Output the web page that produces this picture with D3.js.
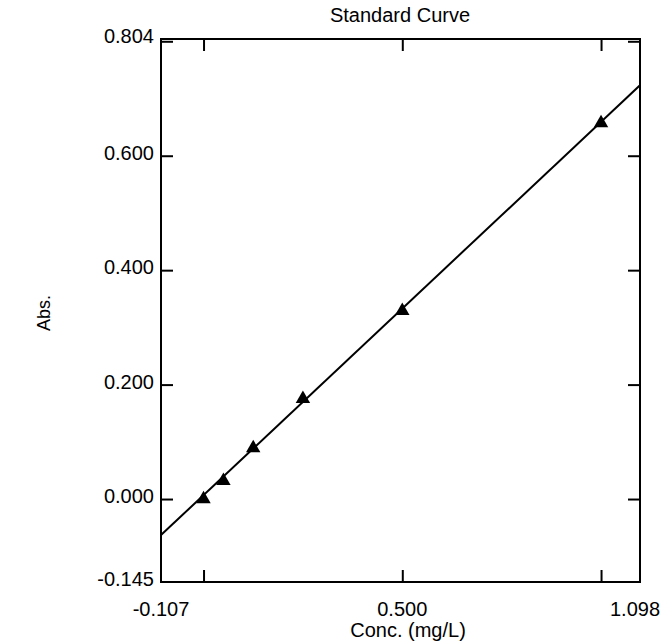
<!DOCTYPE html>
<html lang="en">
<head>
  <meta charset="UTF-8">
  <title>Standard Curve</title>
  <script src="https://d3js.org/d3.v7.min.js"></script>
  <style>
    body { margin: 0; background: #fff; }
    text { font-family: "Liberation Sans", Arial, sans-serif; fill: #000; }
  </style>
</head>
<body>
  <div id="chart"></div>
  <script>
    // standards: concentration (mg/L) vs absorbance
    const concs = [0, 0.05, 0.125, 0.25, 0.5, 1.0];
    const absVals = [0.000, 0.032, 0.089, 0.175, 0.329, 0.657];

    // fitted line, read at the plot edges
    const fitX = [-0.107, 1.098];
    const fitY = [-0.063, 0.723];

    const xDomain = [-0.107, 1.098];
    const yDomain = [-0.145, 0.804];
    const xTicks = [0, 0.5, 1.0];
    const yTicks = [0, 0.2, 0.4, 0.6, 0.8];
    const xLabels = [-0.107, 0.5, 1.098];
    const yLabels = [-0.145, 0, 0.2, 0.4, 0.6, 0.804];

    const W = 667, H = 644;
    const m = { left: 161, right: 27, top: 39, bottom: 62 };
    const iw = W - m.left - m.right, ih = H - m.top - m.bottom;

    const svg = d3.select("#chart").append("svg").attr("width", W).attr("height", H);
    const g = svg.append("g").attr("transform", `translate(${m.left},${m.top})`);

    const x = d3.scaleLinear().domain(xDomain).range([0, iw]);
    const y = d3.scaleLinear().domain(yDomain).range([ih, 0]);
    const tk = 12;

    // inward ticks on all four sides
    g.append("g").attr("transform", `translate(0,${ih})`)
      .call(d3.axisBottom(x).tickValues(xTicks).tickSize(-tk).tickFormat(""));
    g.append("g")
      .call(d3.axisTop(x).tickValues(xTicks).tickSize(-tk).tickFormat(""));
    g.append("g")
      .call(d3.axisLeft(y).tickValues(yTicks).tickSize(-tk).tickFormat(""));
    g.append("g").attr("transform", `translate(${iw},0)`)
      .call(d3.axisRight(y).tickValues(yTicks).tickSize(-tk).tickFormat(""));
    g.selectAll(".domain").remove();
    g.selectAll(".tick line").attr("stroke", "#000").attr("stroke-width", 2);

    g.append("rect").attr("width", iw).attr("height", ih)
      .attr("fill", "none").attr("stroke", "#000").attr("stroke-width", 2);

    // labels (plain hyphen for negatives, like the original)
    const fmt = d => d3.format(".3f")(d).replace("\u2212", "-");
    g.selectAll(".ylab").data(yLabels).enter().append("text")
      .attr("x", -7).attr("y", d => y(d) - 3).attr("dy", "0.35em")
      .attr("text-anchor", "end").attr("font-size", 20).text(fmt);
    g.selectAll(".xlab").data(xLabels).enter().append("text")
      .attr("x", (d, i) => x(d) + (i === xLabels.length - 1 ? -5 : 0)).attr("y", ih + 34)
      .attr("text-anchor", "middle").attr("font-size", 20).text(fmt);

    svg.append("text").attr("x", 400).attr("y", 22)
      .attr("text-anchor", "middle").attr("font-size", 20).text("Standard Curve");
    svg.append("text").attr("x", 408).attr("y", 637)
      .attr("text-anchor", "middle").attr("font-size", 20).text("Conc. (mg/L)");
    svg.append("text").attr("transform", "translate(50,313) rotate(-90)")
      .attr("text-anchor", "middle").attr("font-size", 18).text("Abs.");

    // fit line
    g.append("path")
      .datum(d3.zip(fitX, fitY))
      .attr("fill", "none").attr("stroke", "#000").attr("stroke-width", 2)
      .attr("d", d3.line().x(d => x(d[0])).y(d => y(d[1])));

    // points
    g.selectAll(".pt").data(d3.zip(concs, absVals)).enter().append("path")
      .attr("transform", d => `translate(${x(d[0])},${y(d[1])})`)
      .attr("d", d3.symbol().type(d3.symbolTriangle).size(90))
      .attr("fill", "#000");
  </script>
</body>
</html>
